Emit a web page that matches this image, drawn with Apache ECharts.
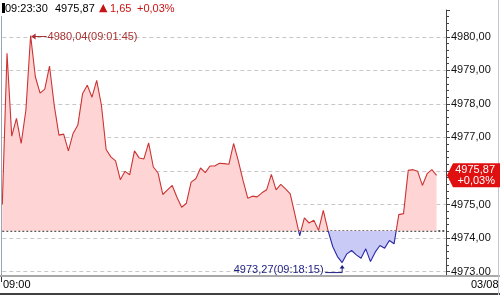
<!DOCTYPE html>
<html><head><meta charset="utf-8">
<script src="https://cdn.jsdelivr.net/npm/echarts@6/dist/echarts.min.js"></script>
<style>html,body{margin:0;padding:0;background:#fff}#c{width:500px;height:295px}</style>
</head><body><div id="c"></div>
<script>
// ---- data ----
const prices = [
  4975.00, 4979.51, 4977.04, 4977.57, 4976.82, 4977.82, 4980.04, 4978.81, 4978.32, 4978.44,
  4979.13, 4977.96, 4977.07, 4977.10, 4976.60, 4977.12, 4977.37, 4978.30, 4978.56, 4978.20,
  4978.70, 4977.96, 4976.64, 4976.42, 4976.30, 4975.74, 4975.99, 4975.89, 4976.60, 4976.39,
  4976.36, 4976.84, 4976.12, 4975.94, 4975.30, 4975.44, 4975.57, 4975.22, 4974.92, 4975.04,
  4975.67, 4975.77, 4976.09, 4975.95, 4976.15, 4976.15, 4976.23, 4976.22, 4976.20, 4976.82,
  4976.30, 4975.72, 4975.19, 4975.25, 4975.23, 4975.35, 4975.44, 4975.90, 4975.44, 4975.60,
  4975.47, 4975.32, 4974.70, 4974.07, 4974.60, 4974.45, 4974.53, 4974.23, 4974.83, 4974.23,
  4973.75, 4973.45, 4973.27, 4973.53, 4973.63, 4973.50, 4973.40, 4973.68, 4973.30, 4973.58,
  4973.78, 4973.70, 4973.93, 4973.83, 4974.70, 4974.73, 4976.02, 4976.04, 4975.99, 4975.57,
  4975.92, 4976.04, 4975.87
];
const prevClose = 4974.22;
const yTicks = [4973, 4974, 4975, 4976, 4977, 4978, 4979, 4980];
const xTickLabels = ['09:00', '03/08'];
const headerTime = '09:23:30';
const headerPrice = '4975,87';
const headerChange = '1,65';
const headerPct = '+0,03%';
const highLabel = '4980,04(09:01:45)';
const lowLabel = '4973,27(09:18:15)';
const highIndex = 6, lowIndex = 72;
const slotCount = 95; // 15-second slots on the time axis
const categories = [];
for (let i = 0; i < slotCount; i++) {
  const s = 9 * 3600 + 15 * (i + 1);
  const hh = String(Math.floor(s / 3600)).padStart(2, '0');
  const mm = String(Math.floor(s % 3600 / 60)).padStart(2, '0');
  const ss = String(s % 60).padStart(2, '0');
  categories.push(hh + ':' + mm + ':' + ss);
}

(function () {
const FONT = '"Liberation Sans", Arial, sans-serif';
const fmt = v => v.toFixed(2).replace('.', ',');
const RED = '#cc3333', BLUE = '#2828a8';
const RED_FILL = '#ffd4d4', BLUE_FILL = '#cacaf6';
const GRID = {left: 2.3, right: 54, top: 10, bottom: 19};

const chart = echarts.init(document.getElementById('c'), null, {renderer: 'canvas'});
const markData = yTicks.map(v => ({
  yAxis: v,
  lineStyle: {color: '#c8c8c8', type: [4, 3], width: 1}
}));
markData.push({yAxis: prevClose, lineStyle: {color: '#333', type: [2, 2], width: 1.6}});

chart.setOption({
  animation: false,
  grid: Object.assign({outerBoundsMode: 'none'}, GRID),
  xAxis: {
    type: 'category', data: categories, boundaryGap: false,
    axisLine: {show: false}, axisTick: {show: false}, axisLabel: {show: false}, splitLine: {show: false}
  },
  yAxis: {
    type: 'value', position: 'right', min: 4972.87, max: 4980.8, splitNumber: 8,
    axisLine: {show: true, lineStyle: {color: '#444'}},
    axisTick: {show: true, length: 4, lineStyle: {color: '#444'}},
    minorTick: {show: true, splitNumber: 5, length: 3, lineStyle: {color: '#444'}},
    axisLabel: {showMinLabel: false, showMaxLabel: false, margin: 5, color: '#111', fontSize: 11,
      fontFamily: FONT, formatter: v => fmt(v)},
    splitLine: {show: false}
  },
  series: [{
    type: 'line', data: prices, symbol: 'none', lineStyle: {width: 1.1, color: RED},
    areaStyle: {origin: prevClose, color: RED_FILL, opacity: 1},
    z: 3,
    markLine: {silent: true, symbol: ['none', 'none'], label: {show: false}, data: markData, z: 2}
  }]
});

const px = (i, v) => chart.convertToPixel({xAxisIndex: 0, yAxisIndex: 0}, [i, v]);
const baseY = px(0, prevClose)[1];
const gTop = GRID.top, gBottom = 295 - GRID.bottom;
const off = (baseY - gTop) / (gBottom - gTop);
const split = (a, b) => new echarts.graphic.LinearGradient(0, gTop, 0, gBottom, [
  {offset: 0, color: a}, {offset: off, color: a}, {offset: off, color: b}, {offset: 1, color: b}
], true);

const hi = px(highIndex, prices[highIndex]);
const lo = px(lowIndex, prices[lowIndex]);
const last = px(prices.length - 1, prices[prices.length - 1]);
const axisX = px(slotCount - 1, prevClose)[0];

const txt = (x, y, text, color, extra) => Object.assign({
  type: 'text', x: x, y: y, silent: true, z: 100,
  style: Object.assign({text: text, fill: color, font: '11px ' + FONT, verticalAlign: 'middle', align: 'left'}, extra || {})
});
const line = (x1, y1, x2, y2, color, w) => ({
  type: 'line', silent: true, z: 100, shape: {x1, y1, x2, y2}, style: {stroke: color, lineWidth: w || 1}
});

const g = [
  // frame
  line(1.5, 16, 1.5, 276, '#9aa4b4'),
  line(0, 276, 500, 276, '#a8a8a8', 2),
  line(0, 294, 500, 294, '#000', 1.5),
  line(1.5, 277, 1.5, 282, '#333'),
  line(498.5, 0, 498.5, 295, '#c0c6d0'),
  // header
  {type: 'rect', silent: true, shape: {x: 2, y: 3, width: 3, height: 10}, style: {fill: '#000'}},
  txt(5, 8.5, headerTime, '#000'),
  txt(55, 8.5, headerPrice, '#000'),
  txt(99, 8, '▲', '#c81414', {font: '11px "DejaVu Sans", sans-serif'}),
  txt(110, 8.5, headerChange, '#c81414'),
  txt(137, 8.5, headerPct, '#c81414'),
  // x labels
  txt(3, 285, xTickLabels[0], '#000'),
  txt(471, 285, xTickLabels[1], '#000'),
  // high annotation
  line(hi[0] + 3, hi[1] + 1, hi[0] + 16, hi[1] + 1, '#a83232'),
  {type: 'polygon', silent: true, z: 100, shape: {points: [[hi[0] + 0.5, hi[1] + 1], [hi[0] + 5, hi[1] - 2], [hi[0] + 5, hi[1] + 4]]}, style: {fill: '#a83232'}},
  txt(hi[0] + 17, hi[1] + 1.5, highLabel, '#a83232'),
  // low annotation
  line(lo[0] - 17, lo[1] + 10, lo[0], lo[1] + 10, '#1c1c80'),
  line(lo[0], lo[1] + 10, lo[0], lo[1] + 5, '#1c1c80'),
  {type: 'polygon', silent: true, z: 100, shape: {points: [[lo[0], lo[1] + 2.5], [lo[0] - 2.5, lo[1] + 6], [lo[0] + 2.5, lo[1] + 6]]}, style: {fill: '#1c1c80'}},
  txt(lo[0] - 18.5, lo[1] + 7, lowLabel, '#1c1c80', {align: 'right'}),
  // price tag
  {type: 'polygon', silent: true, z: 100, shape: {points: [[axisX + 1, last[1]], [axisX + 7, last[1] - 12], [500, last[1] - 12], [500, last[1] + 12], [axisX + 7, last[1] + 12]]}, style: {fill: '#e01010'}},
  txt(495, last[1] - 5, fmt(prices[prices.length - 1]), '#fff', {align: 'right'}),
  txt(495, last[1] + 6, headerPct, '#fff', {align: 'right'})
];
chart.setOption({
  series: [{lineStyle: {color: split(RED, BLUE)}, areaStyle: {color: split(RED_FILL, BLUE_FILL)}}],
  graphic: {elements: g}
});
})();
</script>
</body></html>
